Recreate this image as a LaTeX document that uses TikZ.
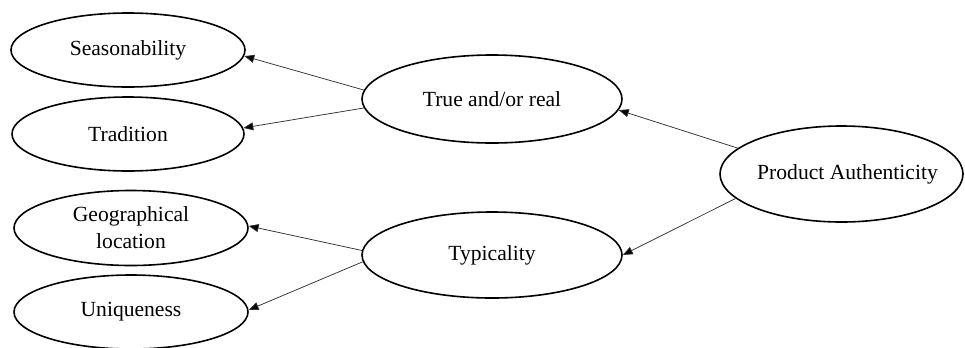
\documentclass[tikz,border=0pt]{standalone}
\usepackage{fontspec}
\setmainfont{Liberation Serif}
\usetikzlibrary{shapes.geometric,arrows.meta}
\begin{document}
\begin{tikzpicture}[x=1bp,y=-1bp,
  oval/.style={ellipse,draw=black,line width=1.6bp,inner sep=0pt,align=center,
    font=\fontsize{21.6bp}{27bp}\selectfont},
  conn/.style={draw=black!80,line width=0.75bp,-{Triangle[length=10bp,width=8bp,fill=black]}}]
\useasboundingbox (0,0) rectangle (965,347);
\node[oval,minimum width=234bp,minimum height=74bp] (sea) at (128,50) {Seasonability};
\node[oval,minimum width=232bp,minimum height=74bp] (tra) at (128,134) {Tradition};
\node[oval,minimum width=234bp,minimum height=75bp] (geo) at (131,228) {Geographical\\location};
\node[oval,minimum width=234bp,minimum height=74bp] (uni) at (131,312) {Uniqueness};
\node[oval,minimum width=260bp,minimum height=88bp] (tr) at (492,99) {True and/or real};
\node[oval,minimum width=260bp,minimum height=86bp] (ty) at (492,255) {Typicality};
\node[oval,minimum width=243bp,minimum height=96bp] (pa) at (841.5,174) {\makebox[0pt]{\hspace*{12bp}Product Authenticity}};
\draw[conn] (pa.166.7) -- (tr.-5);
\draw[conn] (pa.193.3) -- (ty.0);
\draw[conn] (tr.176) -- (sea.-3.5);
\draw[conn] (tr.184) -- (tra.3);
\draw[conn] (ty.178) -- (geo.1.5);
\draw[conn] (ty.183) -- (uni.1.5);
\end{tikzpicture}
\end{document}
